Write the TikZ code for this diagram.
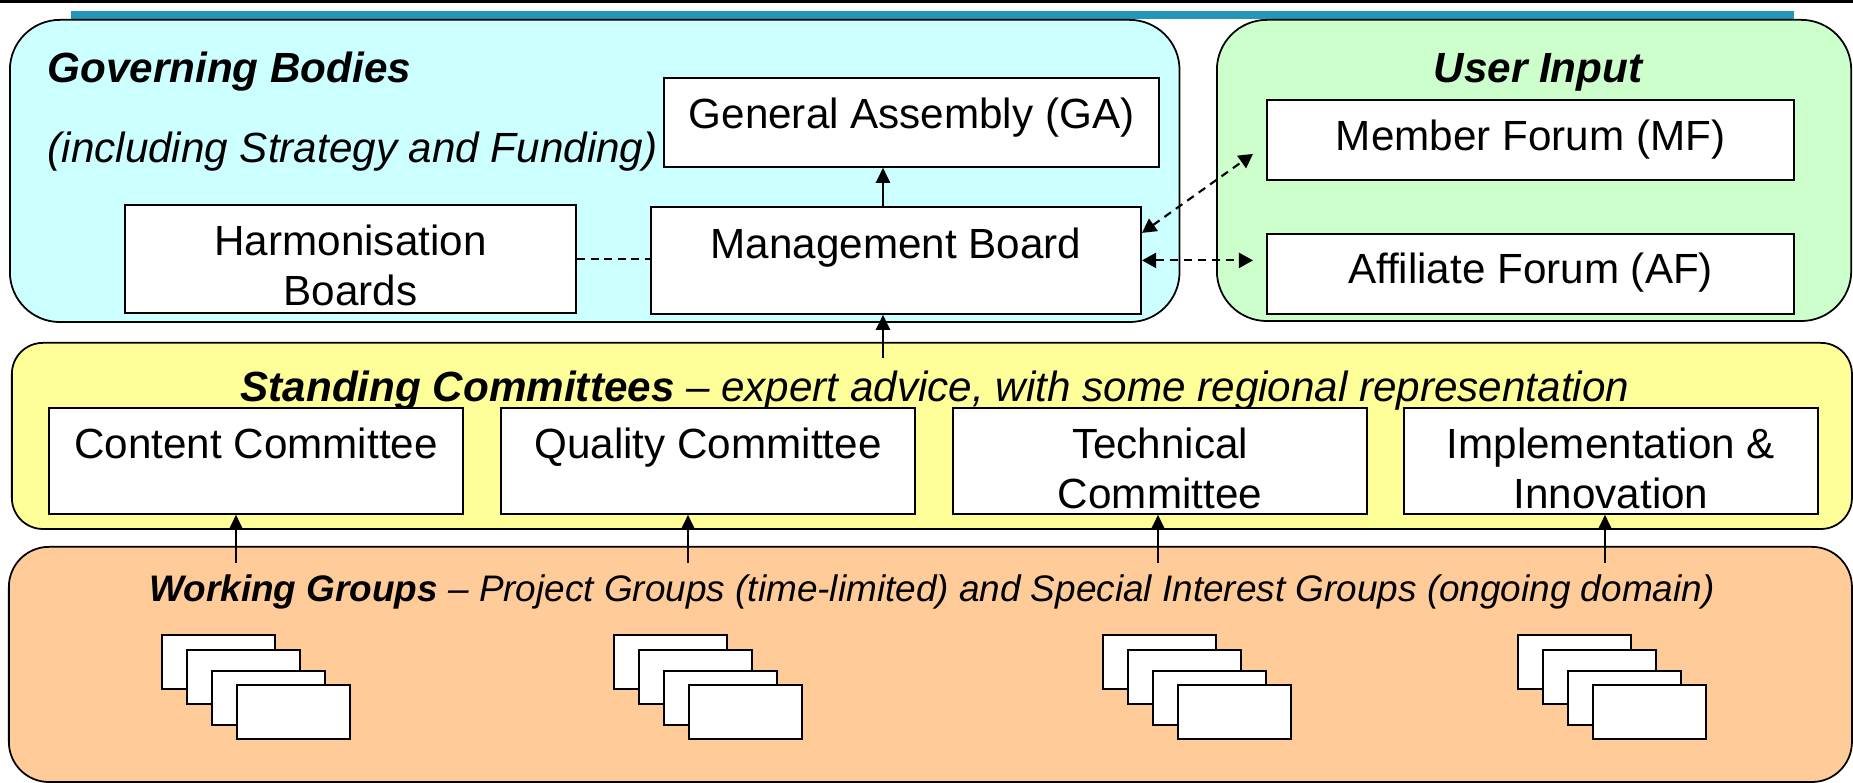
\documentclass[tikz,border=0pt]{standalone}
\usepackage{fontspec}
\setmainfont{Liberation Sans}
\usetikzlibrary{arrows.meta}
\definecolor{govfill}{HTML}{CCFFFF}
\definecolor{userfill}{HTML}{CCFFCC}
\definecolor{stdfill}{HTML}{FFFF99}
\definecolor{wgfill}{HTML}{FFCC99}
\definecolor{bandblue}{RGB}{35,150,185}
\newcommand{\twol}[2]{\vtop{\baselineskip=0.5cm\halign{\hfil##\hfil\cr #1\cr #2\cr}}}
\begin{document}
\begin{tikzpicture}[x=0.01cm, y=-0.01cm, font=\fontsize{12}{14.4}\selectfont,
  panel/.style={draw, line width=0.5pt, anchor=north west, inner sep=0pt},
  obox/.style={draw, fill=white, line width=0.5pt, inner sep=0pt, anchor=north west},
  cbox/.style={obox, minimum width=4.14cm, text height=0.51cm, text depth=0.55cm},
  card/.style={draw, fill=white, line width=0.6pt, inner sep=0pt, anchor=north west, minimum width=1.13cm, minimum height=0.54cm},
  title/.style={inner sep=0pt},
  arr/.style={line width=0.6pt, -{Triangle[length=0.15cm,width=0.14cm]}},
  dline/.style={line width=0.5pt, dash pattern=on 0.08cm off 0.055cm},
  darr/.style={line width=0.6pt, dash pattern=on 0.08cm off 0.06cm, {Triangle[length=0.14cm,width=0.15cm]}-{Triangle[length=0.14cm,width=0.15cm]}},
]
\useasboundingbox (0,0) rectangle (1853,783);
\draw[line width=0.8pt] (0,1.5) -- (1853,1.5);
\fill[bandblue] (71,11) rectangle (1794,19);

% panels
\node[panel, fill=govfill, rounded corners=0.5cm, minimum width=11.69cm, minimum height=3.02cm] (gov) at (9,19) {};
\node[panel, fill=userfill, rounded corners=0.5cm, minimum width=6.34cm, minimum height=3.01cm] (user) at (1216,19) {};
\node[panel, fill=stdfill, rounded corners=0.31cm, minimum width=18.39cm, minimum height=1.86cm] (std) at (11,342) {};
\node[panel, fill=wgfill, rounded corners=0.4cm, minimum width=18.42cm, minimum height=2.35cm] (wg) at (8,546) {};

% titles
\node[title, anchor=base west, font=\fontsize{12}{14.4}\selectfont\bfseries\itshape] (govt) at (47,83) {Governing Bodies};
\node[title, anchor=base west, font=\fontsize{12}{14.4}\selectfont\itshape] (govs) at (47,163) {(including Strategy and Funding)};
\node[title, anchor=base, font=\fontsize{12}{14.4}\selectfont\bfseries\itshape] (usert) at (1538,83) {User Input};
\node[title, anchor=base, font=\fontsize{12}{14.4}\selectfont\itshape] (stdt) at (935,402) {\textbf{Standing Committees} -- expert advice, with some regional representation};
\node[title, anchor=base, font=\fontsize{10.5}{12.6}\selectfont\itshape] (wgt) at (932,602) {\textbf{Working Groups} -- Project Groups (time-limited) and Special Interest Groups (ongoing domain)};

% boxes
\node[obox, minimum width=4.95cm, text height=0.51cm, text depth=0.38cm] (GA) at (663,77) {General Assembly (GA)};
\node[obox, minimum width=4.90cm, text height=0.52cm, text depth=0.55cm] (MB) at (650,206) {Management Board};
\node[obox, minimum width=4.51cm, text height=0.51cm, text depth=0.57cm] (HB) at (124,204) {\twol{Harmonisation}{Boards}};
\node[obox, minimum width=5.27cm, text height=0.51cm, text depth=0.29cm] (MF) at (1266,99) {Member Forum (MF)};
\node[obox, minimum width=5.27cm, text height=0.50cm, text depth=0.30cm] (AF) at (1266,233) {Affiliate Forum (AF)};

\node[cbox] (C1) at (48,407) {Content Committee};
\node[cbox] (C2) at (500,407) {Quality Committee};
\node[cbox] (C3) at (952,407) {\twol{Technical}{Committee}};
\node[cbox] (C4) at (1403,407) {\twol{Implementation \&}{Innovation}};

% working group cards
\foreach \g/\gx in {1/161, 2/613, 3/1102, 4/1517} {
  \node[card] (g\g a) at (\gx,634) {};
  \node[card] (g\g b) at (\gx+25,649) {};
  \node[card] (g\g c) at (\gx+50,670) {};
  \node[card] (g\g d) at (\gx+75,684) {};
}

% connectors
\coordinate (scup) at (883,358);
\draw[arr] (scup) -- (scup |- MB.south);
\draw[arr] (scup |- MB.north) -- (scup |- GA.south);
\draw[dline] (HB.east) -- (HB.east -| MB.west);
\coordinate (fx) at (1253,0);
\draw[darr] ([yshift=0.275cm]MB.east) -- ([shift={(-0.13cm,-0.14cm)}]MF.west);
\draw[darr] (MB.east) -- (MB.east -| fx);
\foreach \x/\n in {236/C1, 688/C2, 1158/C3, 1605/C4} {
  \coordinate (w\n) at (\x,563);
  \draw[arr] (w\n) -- (w\n |- \n.south);
}
\end{tikzpicture}
\end{document}
